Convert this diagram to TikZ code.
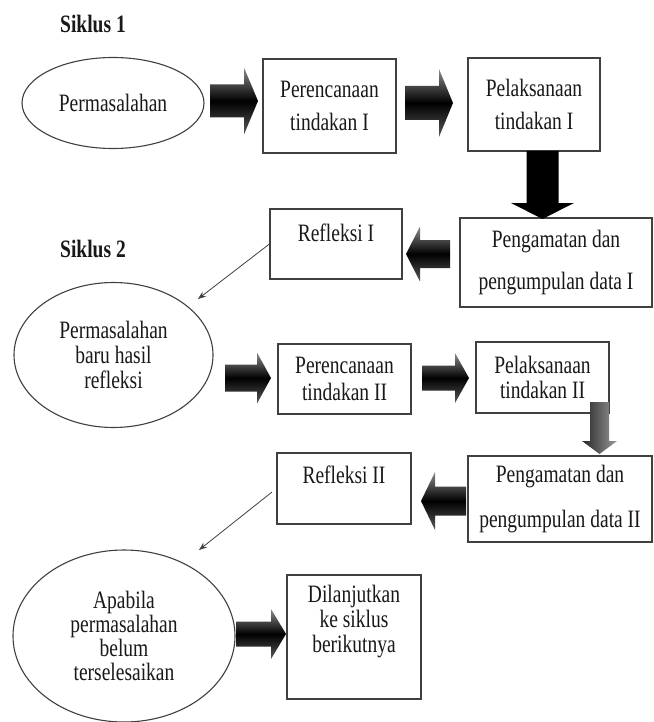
\documentclass[tikz,border=0pt]{standalone}
\usepackage{fontspec}
\setmainfont{Liberation Serif}[FakeStretch=0.78]
\usetikzlibrary{shapes.geometric,arrows.meta}
\newcommand{\blkR}[7][]{\path[#1] ({#2},{#4-#5}) -- ({#3-#7},{#4-#5}) -- ({#3-#7},{#4-#6}) -- ({#3},{#4}) -- ({#3-#7},{#4+#6}) -- ({#3-#7},{#4+#5}) -- ({#2},{#4+#5}) -- cycle;}
\newcommand{\blkL}[7][]{\path[#1] ({#2},{#4-#5}) -- ({#3+#7},{#4-#5}) -- ({#3+#7},{#4-#6}) -- ({#3},{#4}) -- ({#3+#7},{#4+#6}) -- ({#3+#7},{#4+#5}) -- ({#2},{#4+#5}) -- cycle;}
\newcommand{\blkD}[7][]{\path[#1] ({#2-#5},{#3}) -- ({#2+#5},{#3}) -- ({#2+#5},{#4-#7}) -- ({#2+#6},{#4-#7}) -- ({#2},{#4}) -- ({#2-#6},{#4-#7}) -- ({#2-#5},{#4-#7}) -- cycle;}
\tikzset{
  box/.style={draw=black!75, line width=1.1pt, rectangle, inner sep=0pt, fill=white,
    text=black!90, align=center, font=\fontsize{25}{33}\selectfont},
  oval/.style={draw=black!75, line width=1.1pt, ellipse, inner sep=0pt,
    text=black!90, align=center, font=\fontsize{25}{25}\selectfont},
  txt/.style={text=black!90, align=center, inner sep=0pt, font=\fontsize{25}{25}\selectfont},
  head/.style={text=black!90, inner sep=0pt, font=\fontsize{25}{25}\selectfont\bfseries},
  harrow/.style={top color=black!45, bottom color=black!65, middle color=black},
  darrow/.style={left color=black!85, right color=black!40},
  link/.style={draw=black!75, line width=0.8pt, -{Stealth[length=8pt,width=6pt]}},
}
\begin{document}
\begin{tikzpicture}[x=1pt,y=-1pt]
\fill[white] (0,0) rectangle (653,722);
\useasboundingbox (0,0) rectangle (653,722);

% Siklus 1
\node[head] (s1) at (93,24) {Siklus 1};
\node[oval, minimum width=182pt, minimum height=91pt] (e1) at (113,103) {Permasalahan};
\node[box, minimum width=133pt, minimum height=94pt] (p1) at (329.5,106) {Perencanaan\\tindakan I};
\node[box, minimum width=132pt, minimum height=93pt] (l1) at (534,104.5) {Pelaksanaan\\tindakan I};
\node[box, minimum width=192pt, minimum height=89pt, font=\fontsize{25}{42}\selectfont] (o1) at (556,262.5) {Pengamatan dan\\pengumpulan data I};
\node[box, minimum width=132pt, minimum height=70pt] (r1) at (336,244) {};
\node[txt] (r1t) at ([yshift=-24pt]r1.north) {Refleksi I};

% Siklus 2
\node[head] (s2) at (93,249) {Siklus 2};
\node[oval, minimum width=199pt, minimum height=145pt] (e2) at (113.5,355) {Permasalahan\\baru hasil\\refleksi};
\node[box, minimum width=133pt, minimum height=70pt, font=\fontsize{25}{27}\selectfont] (p2) at (344.5,379) {Perencanaan\\tindakan II};
\node[box, minimum width=133pt, minimum height=71pt, font=\fontsize{25}{25}\selectfont] (l2) at (542.5,377.5) {Pelaksanaan\\tindakan II};
\node[box, minimum width=184pt, minimum height=86pt, font=\fontsize{25}{45}\selectfont] (o2) at (560,499) {Pengamatan dan\\pengumpulan data II};
\node[box, minimum width=134pt, minimum height=71pt] (r2) at (344,488.5) {};
\node[txt] (r2t) at ([yshift=-22pt]r2.north) {Refleksi II};

% bottom
\node[oval, minimum width=222pt, minimum height=172pt, font=\fontsize{25}{24}\selectfont] (e3) at (124,636) {Apabila\\permasalahan\\belum\\terselesaikan};
\node[box, minimum width=134pt, minimum height=124pt] (d) at (354,637) {};
\node[txt] (dt) at ([yshift=-47pt]d.north) {Dilanjutkan\\ke siklus\\berikutnya};

% block arrows
\blkR[harrow]{210}{258}{101}{16.5}{33.5}{14}
\blkR[harrow]{405}{453}{103}{17}{34}{14}
\blkD[fill=black]{542.5}{151}{219}{16}{31.5}{16}
\blkL[harrow]{450}{406}{254}{14}{27.5}{14}
\blkR[harrow]{225}{271}{378}{13.5}{25.5}{14}
\blkR[harrow]{422}{469}{378}{12.5}{25}{14}
\blkD[darrow]{599.5}{402}{454}{9.5}{17.5}{13}
\blkL[harrow]{466}{421}{501}{14.5}{29}{14}
\blkR[harrow]{236}{286}{634}{12.5}{25}{15}

% thin arrows
\coordinate (t1) at (198,299);
\coordinate (t2) at (199,550);
\draw[link] (r1.west) -- (t1);
\draw[link, shorten <=6pt] (r2.west) -- (t2);
\end{tikzpicture}
\end{document}
